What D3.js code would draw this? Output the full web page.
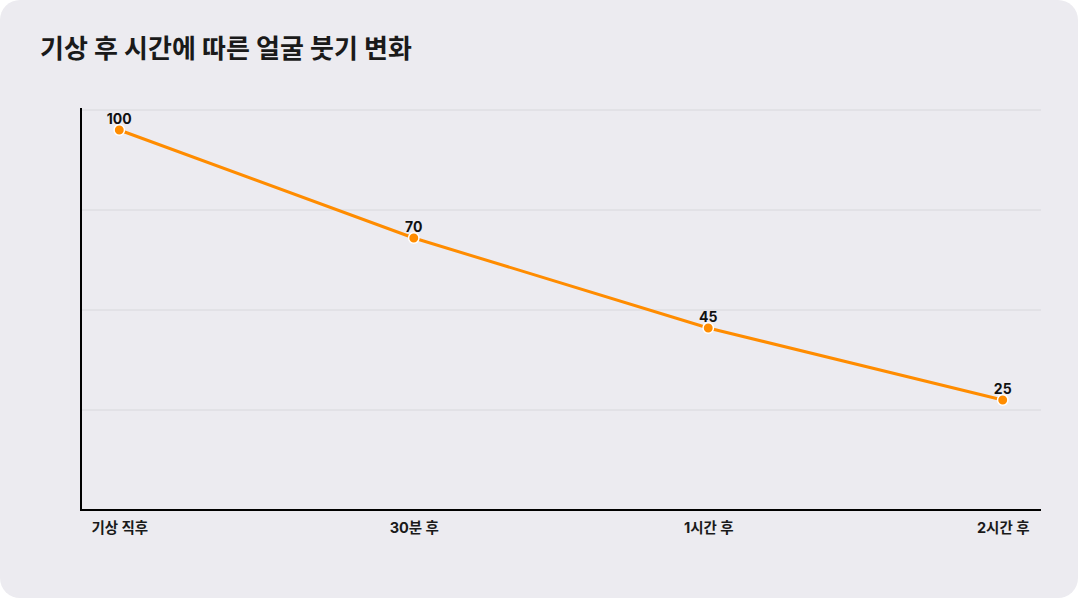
<!DOCTYPE html>
<html><head><meta charset="utf-8">
<script src="https://cdn.jsdelivr.net/npm/d3@7"></script>
<style>
html,body{margin:0;padding:0;background:#fff;}
svg{display:block;}
</style></head>
<body>
<svg id="chart" width="1080" height="600"></svg>
<script>
const title = "기상 후 시간에 따른 얼굴 붓기 변화";
const categories = ["기상 직후", "30분 후", "1시간 후", "2시간 후"];
const values = [100, 70, 45, 25];
const gridCount = 4;

const W = 1080, H = 600;
const margin = {top: 110, right: 39, bottom: 90, left: 81};
const pw = W - margin.left - margin.right;
const ph = H - margin.top - margin.bottom;
const font = "Inter, 'Noto Sans CJK KR', 'Noto Sans', sans-serif";

const svg = d3.select("#chart");
svg.append("rect").attr("x",0).attr("y",0).attr("width",W-2).attr("height",H-2)
  .attr("rx",20).attr("ry",20).attr("fill","#ecebf0");

svg.append("text").attr("x",40).attr("y",58).text(title)
  .attr("font-family",font).attr("font-weight",700).attr("font-size",26).attr("fill","#1a1a1a");

const g = svg.append("g").attr("transform",`translate(${margin.left},${margin.top})`);

const x = d3.scalePoint().domain(categories).range([0,pw]).padding(0.13);
const y = d3.scaleLinear().domain([0,100]).range([ph-20,20]);
const grid = d3.scaleLinear().domain([0,gridCount]).range([ph,0]);

g.append("g").selectAll("line").data(d3.range(1,gridCount+1)).join("line")
  .attr("x1",0).attr("x2",pw).attr("y1",d=>grid(d)).attr("y2",d=>grid(d))
  .attr("stroke","#d8d8dc").attr("stroke-width",1);

// axes
g.append("line").attr("x1",0).attr("x2",0).attr("y1",-2).attr("y2",ph).attr("stroke","#000").attr("stroke-width",2);
g.append("line").attr("x1",-1).attr("x2",pw).attr("y1",ph).attr("y2",ph).attr("stroke","#000").attr("stroke-width",2);

const xAxis = g.append("g").attr("transform",`translate(0,${ph})`)
  .call(d3.axisBottom(x).tickSize(0).tickPadding(10));
xAxis.select(".domain").remove();
xAxis.selectAll("text").attr("font-family",font).attr("font-weight",700)
  .attr("font-size",14.5).attr("fill","#1a1a1a").attr("dy","0.9em");

const data = categories.map((c,i)=>({c, v: values[i]}));
g.append("path").datum(data)
  .attr("d", d3.line().x(d=>x(d.c)).y(d=>y(d.v)))
  .attr("fill","none").attr("stroke","#ff8c00").attr("stroke-width",3);

g.selectAll("circle.pt").data(data).join("circle").attr("class","pt")
  .attr("cx",d=>x(d.c)).attr("cy",d=>y(d.v)).attr("r",5.2)
  .attr("fill","#ff8c00").attr("stroke","#fff").attr("stroke-width",1.5);

g.selectAll("text.lbl").data(data).join("text").attr("class","lbl")
  .attr("x",d=>x(d.c)).attr("y",d=>y(d.v)-6).attr("text-anchor","middle")
  .attr("font-family",font).attr("font-weight",700).attr("font-size",14).attr("fill","#111")
  .text(d=>d.v);
</script>
</body></html>
